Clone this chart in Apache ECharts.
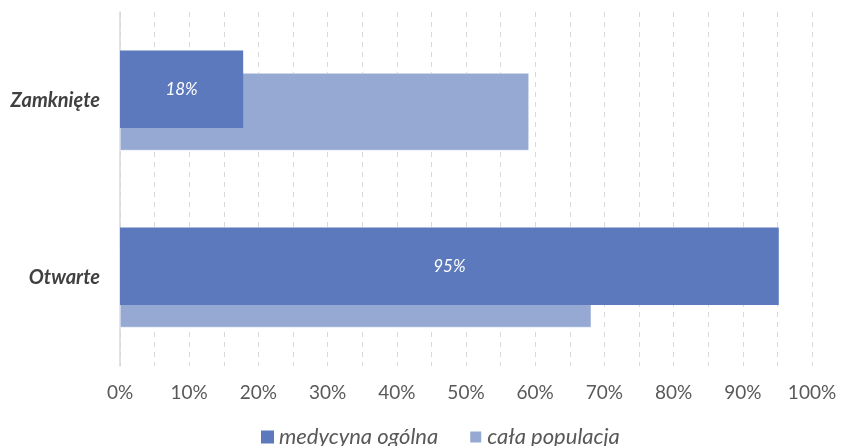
<!DOCTYPE html>
<html>
<head>
<meta charset="utf-8">
<script src="https://cdn.jsdelivr.net/npm/echarts@6/dist/echarts.min.js"></script>
<style>html,body{margin:0;padding:0;background:#fff}#c{width:842px;height:446px}</style>
</head>
<body>
<div id="c"></div>
<script>
const categories = ['Zamknięte', 'Otwarte'];
const medycyna = [17.8, 95.2];
const populacja = [59.1, 68.1];
const seriesNames = ['medycyna ogólna', 'cała populacja'];

const chart = echarts.init(document.getElementById('c'));
const font = 'Lato';
chart.setOption({
  animation: false,
  textStyle: { fontFamily: font },
  legend: {
    data: seriesNames,
    bottom: -7,
    left: 256,
    itemWidth: 13, itemHeight: 13, itemGap: 30,
    icon: 'rect',
    textStyle: { fontFamily: font, fontStyle: 'italic', fontSize: 22, color: '#595959' }
  },
  grid: { left: 120, right: 30, top: 12, bottom: 80, containLabel: false },
  xAxis: {
    type: 'value', min: 0, max: 100, interval: 5,
    axisLine: { show: false }, axisTick: { show: false },
    axisLabel: {
      margin: 17, fontSize: 19, color: '#595959', fontFamily: font,
      formatter: v => (v % 10 === 0 ? v + '%' : '')
    },
    splitLine: { show: true, lineStyle: { type: [5, 5], color: '#d9d9d9', width: 1 } }
  },
  yAxis: {
    type: 'category', data: categories, inverse: true,
    axisLine: { show: true, lineStyle: { color: '#d9d9d9', width: 1.5 } },
    axisTick: { show: false },
    axisLabel: { margin: 20, fontSize: 20, fontWeight: 'bold', fontStyle: 'italic', color: '#404040', fontFamily: font }
  },
  series: [
    {
      name: seriesNames[0], type: 'bar', data: medycyna,
      barWidth: 77.5, barGap: '-71%',
      itemStyle: { color: '#5b79bc' },
      label: {
        show: true, position: 'inside', color: '#ffffff', fontStyle: 'italic', fontSize: 17, fontFamily: font,
        formatter: p => Math.round(p.value) + '%'
      },
      z: 3
    },
    {
      name: seriesNames[1], type: 'bar', data: populacja,
      barWidth: 77.5, barGap: '-71%',
      itemStyle: { color: '#95a9d3', borderColor: '#ffffff', borderWidth: 0.5 },
      z: 2
    }
  ]
});
</script>
</body>
</html>
